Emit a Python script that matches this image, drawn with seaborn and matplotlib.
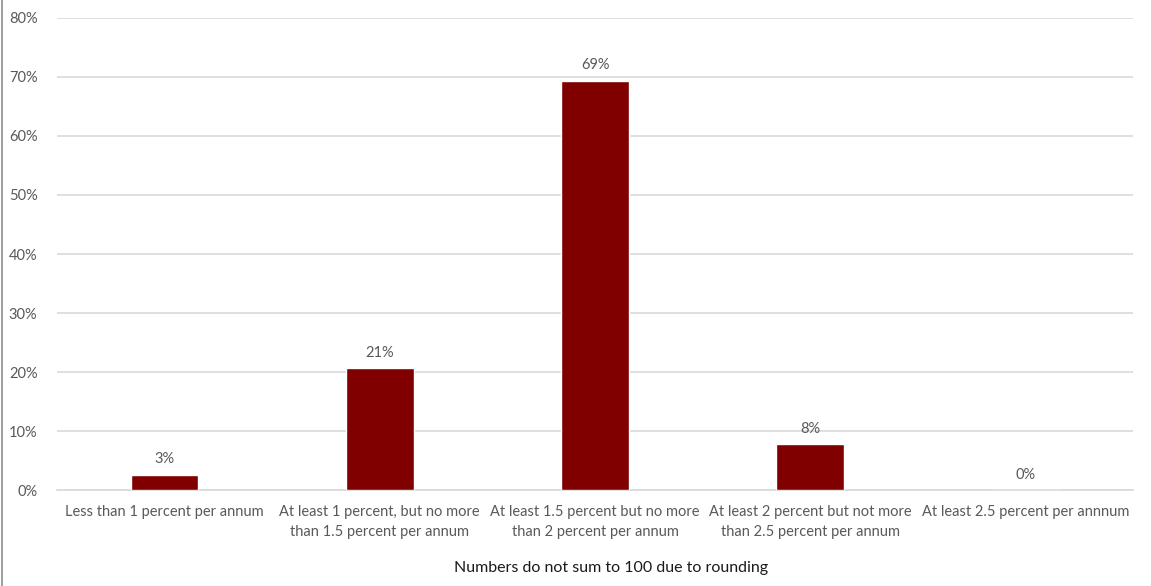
import matplotlib
matplotlib.use("Agg")
import matplotlib.pyplot as plt
from matplotlib.lines import Line2D
from matplotlib.ticker import FuncFormatter
import seaborn as sns
import pandas as pd

categories = [
    "Less than 1 percent per annum",
    "At least 1 percent, but no more\nthan 1.5 percent per annum",
    "At least 1.5 percent but no more\nthan 2 percent per annum",
    "At least 2 percent but not more\nthan 2.5 percent per annum",
    "At least 2.5 percent per annnum",
]
shares = [2.6, 20.6, 69.4, 7.8, 0.0]
y_ticks = [0, 10, 20, 30, 40, 50, 60, 70, 80]
x_title = "Numbers do not sum to 100 due to rounding"

bar_color = "#800000"
tick_gray = "#595959"
grid_gray = "#d9d9d9"

sns.set_theme(style="white")
plt.rcParams["font.family"] = ["Lato", "DejaVu Sans"]

df = pd.DataFrame({"category": categories, "share": shares})

fig = plt.figure(figsize=(11.51, 5.86), dpi=100)
ax = fig.add_axes([0.0495, 0.1638, 0.9349, 0.8055])

sns.barplot(data=df, x="category", y="share", color=bar_color,
            saturation=1, width=0.315, ax=ax, zorder=3)

ax.set_ylim(0, 80)
ax.set_yticks(y_ticks)
ax.yaxis.set_major_formatter(FuncFormatter(lambda v, _: f"{v:.0f}%"))
ax.grid(axis="y", color=grid_gray, linewidth=1.2, zorder=0)
ax.set_axisbelow(True)
for side in ["top", "right", "left"]:
    ax.spines[side].set_visible(False)
ax.spines["bottom"].set_color(grid_gray)
ax.spines["bottom"].set_linewidth(1.2)

ax.tick_params(axis="y", length=0, pad=14, labelsize=10.5, labelcolor=tick_gray)
ax.tick_params(axis="x", length=0, pad=11, labelsize=10.5, labelcolor=tick_gray)
for lbl in ax.get_xticklabels():
    lbl.set_linespacing(1.55)
    lbl.set_horizontalalignment("center")

ax.set_xlabel(x_title, fontsize=11.5, color="#1a1a1a")
ax.xaxis.set_label_coords(0.5145, -0.150)
ax.set_ylabel("")

for i, v in enumerate(shares):
    ax.annotate(f"{v:.0f}%", xy=(i, v), xytext=(0, 6), textcoords="offset points",
                ha="center", va="bottom", fontsize=10.5, color=tick_gray)

fig.add_artist(Line2D([0.002, 0.002], [0, 1], transform=fig.transFigure,
                      color="#8c8c8c", linewidth=1.2))

fig.savefig("out.png", dpi=100, facecolor="white")
